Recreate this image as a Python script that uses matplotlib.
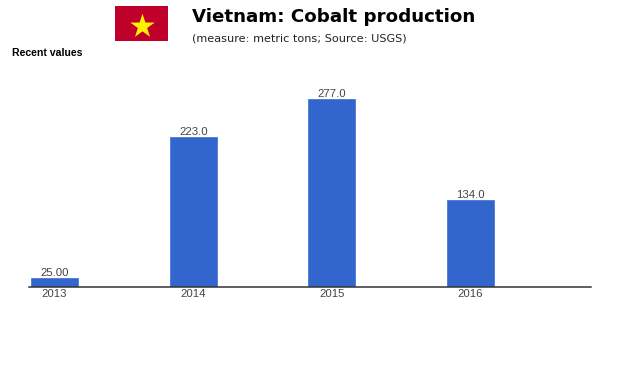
import matplotlib
matplotlib.use("Agg")
import matplotlib.pyplot as plt

years = ["2013", "2014", "2015", "2016"]
values = [25.0, 223.0, 277.0, 134.0]
value_labels = ["25.00", "223.0", "277.0", "134.0"]

W, H = 640, 373
plt.rcParams["font.family"] = ["Liberation Sans", "DejaVu Sans"]

fig = plt.figure(figsize=(W / 100, H / 100), dpi=100, facecolor="white")

# main chart, placed in pixel terms
ax = fig.add_axes([29 / W, (H - 287) / H, 562 / W, 200 / H])
positions = list(range(len(years)))
ax.bar(positions, values, width=0.34, color="#3366cc", edgecolor="#4a78d6", linewidth=0.6)
ax.set_xlim(-0.184, 3.868)
# the reference axis does not start at zero
ax.set_ylim(12, 293.5)
ax.set_xticks(positions)
ax.set_xticklabels(years, fontsize=8.2, color="#444444")
ax.tick_params(axis="x", length=0, pad=1.5)
ax.set_yticks([])
for side in ["top", "left", "right"]:
    ax.spines[side].set_visible(False)
ax.spines["bottom"].set_color("#333333")
ax.spines["bottom"].set_linewidth(1.1)

for pos, val, label in zip(positions, values, value_labels):
    ax.annotate(label, (pos, val), xytext=(0, 0), textcoords="offset points",
                ha="center", va="bottom", fontsize=8.2, color="#444444")

# flag
flag = fig.add_axes([115 / W, (H - 41) / H, 53 / W, 35 / H])
flag.set_facecolor("#c0002a")
flag.set_xlim(0, 1)
flag.set_ylim(0, 1)
flag.set_xticks([])
flag.set_yticks([])
for side in flag.spines.values():
    side.set_visible(False)
flag.scatter([0.5], [0.44], marker="*", s=340, color="#fff200", linewidths=0)

# headings
fig.text(192 / W, 1 - 17 / H, "Vietnam: Cobalt production", family="DejaVu Sans",
         fontsize=13.15, fontweight="bold", color="black", va="center", ha="left")
fig.text(192 / W, 1 - 38.5 / H, "(measure: metric tons; Source: USGS)", family="DejaVu Sans",
         fontsize=8.15, color="#222222", va="center", ha="left")
fig.text(12 / W, 1 - 52.5 / H, "Recent values", fontsize=7.6, fontweight="bold",
         color="black", va="center", ha="left")

fig.savefig("out.png", dpi=100)
